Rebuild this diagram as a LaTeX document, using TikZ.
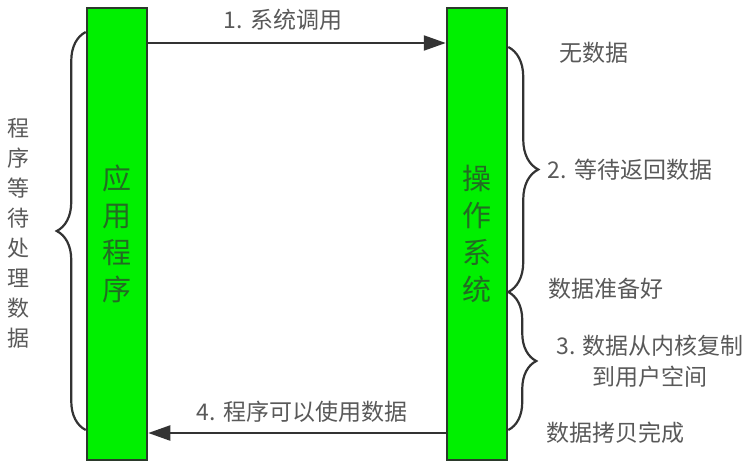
\documentclass[tikz,border=0pt]{standalone}
\usepackage{fontspec}
\setmainfont{Noto Sans CJK SC}
\usetikzlibrary{arrows.meta, decorations.pathreplacing, calc}
\definecolor{barGreen}{HTML}{00F000}
\definecolor{barEdge}{HTML}{2B3A2B}
\definecolor{barText}{HTML}{236B23}
\definecolor{lineGrey}{HTML}{333333}
\definecolor{labelGrey}{HTML}{595959}

\begin{document}
\begin{tikzpicture}[x=1pt, y=-1pt,
    bar/.style={draw=barEdge, line width=2.5pt, fill=barGreen, minimum width=60pt,
      minimum height=452pt, inner sep=0pt, text=barText, align=center,
      font=\fontsize{29}{37}\selectfont},
    lbl/.style={text=labelGrey, align=center, inner sep=0pt,
      font=\fontsize{23}{31}\selectfont},
    call/.style={draw=lineGrey, line width=2.2pt, -{Triangle[length=22pt, width=15pt]}},
    curly/.style={draw=lineGrey, line width=2.2pt, decorate,
      decoration={brace, amplitude=#1}}]
    \useasboundingbox (0,0) rectangle (754,467);

    % colonnes
    \node[bar] (app) at (117,234) {应\\用\\程\\序};
    \node[bar] (os)  at (477,234) {操\\作\\系\\统};

    % lignes de repère
    \coordinate (rCall)  at (0,43);
    \coordinate (rBack)  at (0,433);
    \coordinate (rTop)   at (0,32);
    \coordinate (rBot)   at (0,430);
    \coordinate (rWait)  at (0,47);
    \coordinate (rReady) at (0,292);

    % appels
    \draw[call] (app.east |- rCall) -- (os.west |- rCall);
    \draw[call] (os.west |- rBack) -- (app.east |- rBack);
    \node[lbl] (syscall) at (283,20) {1. 系统调用};
    \node[lbl] (usedata) at (302,412) {4. 程序可以使用数据};

    % accolades
    \draw[curly=29pt] (app.west |- rBot) -- (app.west |- rTop);
    \draw[curly=30pt] (os.east |- rWait) -- (os.east |- rReady);
    \draw[curly=28pt] (os.east |- rReady) -- (os.east |- rBot);

    \node[lbl, font=\fontsize{22}{30}\selectfont] (waiting) at (18,233)
      {程\\序\\等\\待\\处\\理\\数\\据};
    \node[lbl] (nodata) at (594,53)  {无数据};
    \node[lbl] (wait)   at (630,170) {2. 等待返回数据};
    \node[lbl] (ready)  at (606,289) {数据准备好};
    \node[lbl] (copy)   at (650,361) {3. 数据从内核复制\\到用户空间};
    \node[lbl] (done)   at (615,433) {数据拷贝完成};
\end{tikzpicture}
\end{document}
